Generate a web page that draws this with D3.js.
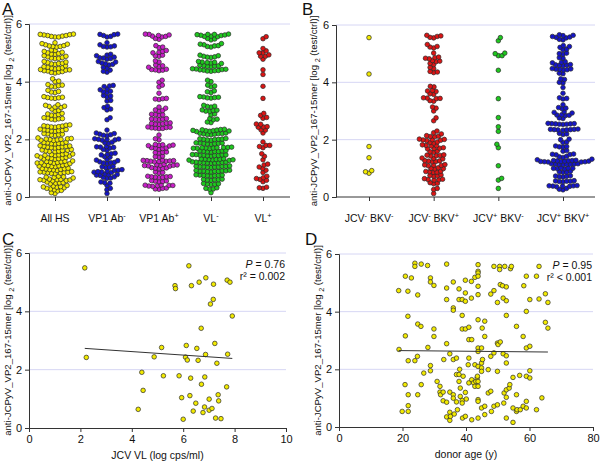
<!DOCTYPE html>
<html><head><meta charset="utf-8">
<script src="https://cdn.jsdelivr.net/npm/d3@7"></script>
<style>body{margin:0;background:#fff}svg{display:block}text{font-family:Arial,"Liberation Sans",sans-serif;fill:#111}</style>
</head><body><svg id="c" width="600" height="462"></svg>
<script>
// ---------------- DATA ----------------
const yTicks = [0, 2, 4, 6];
const catsA = ["All HS", "VP1 Ab-", "VP1 Ab+", "VL-", "VL+"];
const catsB = ["JCV- BKV-", "JCV- BKV+", "JCV+ BKV-", "JCV+ BKV+"];
const xTicksC = [0, 2, 4, 6, 8, 10];
const xTicksD = [0, 20, 40, 60, 80];

const allHS = [5.65,5.63,5.62,5.6,5.58,5.57,5.55,5.55,5.6,5.64,5.35,5.3,5.25,5.22,5.2,5.22,5.28,5.32,5.24,
5.1,5.05,5.0,4.98,4.96,5.02,5.08,4.95,4.9,4.86,4.82,4.8,4.84,4.88,4.81,4.7,4.66,4.62,4.6,4.64,4.68,4.63,
4.55,4.5,4.48,4.46,4.52,4.47,4.42,4.4,4.38,4.35,4.32,4.3,4.33,4.37,4.41,4.44,4.1,4.02,4.0,
3.9,3.86,3.84,3.82,3.88,3.7,3.66,3.62,3.64,3.48,3.45,3.44,3.42,3.46,3.43,3.2,3.15,3.12,3.1,3.14,3.18,
3.05,3.0,2.98,2.9,2.86,2.84,2.82,2.88,2.75,2.72,2.7,2.68,2.71,2.74,2.5,2.47,2.45,2.43,2.42,2.44,2.46,2.49,
2.35,2.33,2.31,2.3,2.28,2.29,2.32,2.34,2.2,2.18,2.15,2.13,2.16,2.19,2.05,2.02,2.0,1.99,1.98,1.97,2.01,2.03,1.96,
1.9,1.88,1.86,1.85,1.84,1.87,1.89,1.78,1.76,1.75,1.74,1.72,1.71,1.73,1.77,1.7,1.65,1.62,1.6,1.58,1.57,1.59,1.61,1.63,
1.5,1.48,1.46,1.45,1.44,1.43,1.47,1.49,1.42,1.38,1.36,1.34,1.32,1.31,1.33,1.35,1.37,
1.25,1.23,1.22,1.2,1.19,1.18,1.17,1.21,1.24,1.16,1.12,1.1,1.09,1.08,1.07,1.06,1.11,1.05,
1.0,0.98,0.96,0.95,0.94,0.92,0.97,0.99,0.88,0.87,0.86,0.85,0.84,0.83,0.82,0.86,0.81,
0.72,0.7,0.69,0.68,0.66,0.62,0.61,0.6,0.59,0.58,0.57,0.56,0.6,0.52,0.5,0.49,0.48,0.46,
0.4,0.38,0.36,0.35,0.34,0.32,0.3,0.28,0.25,0.23,0.21,0.15,0.12];

const vp1Neg = [5.65,5.63,5.6,5.55,5.57,5.64,5.35,5.28,5.22,5.2,5.24,5.21,4.95,4.92,4.9,4.85,4.8,4.82,4.78,4.83,
4.7,4.65,4.68,4.6,4.58,4.62,4.5,4.47,4.4,4.36,4.33,3.87,3.85,3.83,3.75,3.72,3.65,3.62,3.67,3.5,3.47,3.52,3.35,3.33,
3.15,3.1,3.05,3.02,2.75,2.68,2.32,2.2,2.22,2.18,2.12,2.14,2.16,2.02,2.0,1.98,1.97,2.01,1.99,1.9,1.88,1.86,
1.75,1.73,1.72,1.7,1.74,1.65,1.62,1.52,1.5,1.48,1.46,1.4,1.38,1.3,1.28,1.26,1.22,1.2,1.18,1.16,1.19,1.06,1.05,1.03,1.02,
0.95,0.93,0.92,0.9,0.88,0.87,0.86,0.85,0.8,0.78,0.76,0.75,0.77,0.7,0.68,0.66,0.65,0.52,0.5,0.48,0.4,0.3,0.25,0.12];

const vp1Pos = [5.65,5.62,5.6,5.57,5.55,5.58,5.64,5.5,5.47,5.25,5.2,5.18,5.08,5.05,5.02,5.0,4.92,4.9,4.88,4.72,4.68,
4.58,4.55,4.52,4.5,4.43,4.41,4.4,4.38,4.42,4.05,3.98,3.88,3.82,3.6,3.42,3.4,3.38,3.41,3.12,3.08,3.02,3.0,2.98,
2.87,2.85,2.83,2.86,2.72,2.7,2.68,2.71,2.69,2.56,2.55,2.53,2.54,2.57,2.52,2.42,2.4,2.38,2.41,2.39,2.37,2.43,2.15,
2.02,1.98,1.82,1.8,1.78,1.81,1.79,1.77,1.7,1.68,1.66,1.69,1.71,1.56,1.55,1.53,1.54,1.42,1.4,1.38,
1.27,1.26,1.25,1.24,1.23,1.22,1.26,1.24,1.28,1.12,1.1,1.09,1.08,1.11,1.1,1.07,1.13,1.02,1.0,0.98,0.99,1.01,
0.87,0.85,0.83,0.72,0.7,0.68,0.69,0.71,0.7,0.67,0.56,0.55,0.53,0.54,0.57,0.42,0.4,0.38,0.39,0.41,0.37,0.4,0.3,0.28,0.27,0.31];

const vlNeg = [5.65,5.64,5.63,5.62,5.6,5.58,5.57,5.56,5.61,5.64,5.5,5.48,5.45,5.32,5.28,5.25,5.22,5.2,5.24,5.3,
4.92,4.88,4.86,4.84,4.9,4.85,4.7,4.67,4.65,4.63,4.66,4.68,4.57,4.55,4.53,4.52,4.56,4.54,
4.45,4.43,4.41,4.4,4.38,4.37,4.39,4.42,4.44,4.36,4.05,4.0,3.88,3.85,3.82,3.68,3.65,3.62,
3.48,3.46,3.45,3.44,3.47,3.43,3.18,3.15,3.12,3.14,3.02,3.0,2.98,3.01,2.97,2.88,2.85,2.72,2.7,2.68,2.6,2.58,
2.34,2.33,2.31,2.3,2.29,2.28,2.32,2.3,2.27,2.35,2.22,2.2,2.18,2.17,2.19,2.21,2.16,2.2,
2.03,2.02,2.0,1.99,1.98,2.01,1.97,2.0,1.88,1.87,1.86,1.85,1.84,1.86,1.83,1.87,
1.73,1.72,1.71,1.7,1.69,1.68,1.72,1.7,1.71,1.69,1.6,1.59,1.58,1.57,1.6,1.58,1.61,1.56,
1.47,1.46,1.45,1.44,1.43,1.45,1.46,1.44,1.47,1.42,1.32,1.31,1.3,1.29,1.28,1.3,1.31,1.29,1.33,1.27,
1.21,1.2,1.19,1.18,1.2,1.22,1.17,1.19,1.21,1.18,1.07,1.06,1.05,1.04,1.03,1.05,1.06,1.04,1.08,1.02,
0.92,0.91,0.9,0.89,0.88,0.9,0.91,0.89,0.93,0.87,0.77,0.76,0.75,0.74,0.73,0.75,0.76,0.74,
0.62,0.61,0.6,0.59,0.58,0.6,0.47,0.46,0.45,0.44,0.43,0.32,0.3,0.28,0.27,0.15];

// Panel C: JCV viral load (log cps/ml) vs response — also the VL+ column in A
const jcvVL = [2.17,2.23,4.25,4.39,4.44,4.87,5.16,5.23,5.68,5.70,5.84,5.94,6.0,6.09,6.12,6.16,6.22,6.26,6.29,6.32,
6.39,6.49,6.53,6.58,6.62,6.70,6.71,6.77,6.83,6.84,6.87,6.88,7.01,7.01,7.12,7.06,7.17,7.18,7.23,7.26,
7.31,7.36,7.38,7.47,7.69,7.73,7.71,7.82,7.91];
const jcvValue = [5.49,2.42,0.64,1.91,1.29,2.44,2.76,1.79,4.88,4.78,1.79,1.04,0.30,2.43,2.83,2.33,5.56,1.11,1.71,4.88,
0.58,0.85,2.73,2.32,5.0,3.42,1.50,0.53,0.72,1.75,2.52,5.15,0.61,0.99,0.67,4.25,4.41,4.93,2.90,0.34,
2.22,1.14,0.93,0.32,1.41,2.53,5.07,5.00,3.84];
const fitC = [2.86, -0.060]; // intercept, slope

const jNbN = [5.56,4.29,1.76,1.37,0.92,0.83,0.88];
const jNbP = [5.64,5.6,5.57,5.55,5.62,5.32,5.25,5.23,5.2,5.02,4.88,4.86,4.84,4.82,4.76,4.74,4.72,4.66,4.62,4.52,4.48,
4.38,4.36,4.34,3.86,3.84,3.72,3.7,3.68,3.6,3.58,3.46,3.45,3.44,3.43,3.36,3.34,3.14,3.1,3.0,2.76,2.66,2.3,2.24,2.2,
2.14,2.12,2.1,2.11,2.02,2.0,1.99,1.98,2.01,1.97,1.92,1.9,1.88,1.82,1.8,1.78,1.79,1.72,1.7,1.68,1.69,1.6,1.58,1.56,
1.47,1.46,1.45,1.44,1.43,1.36,1.35,1.33,1.27,1.26,1.25,1.24,1.23,1.13,1.12,1.11,1.1,1.09,1.02,1.0,0.99,0.98,
0.9,0.89,0.88,0.87,0.86,0.77,0.75,0.74,0.73,0.64,0.62,0.61,0.6,0.59,0.5,0.48,0.46,0.3,0.26,0.12];
const jPbN = [5.56,5.45,5.0,4.93,4.93,5.02,4.42,3.43,2.77,2.45,2.29,1.84,1.72,1.09,0.65,0.59,0.30];
const jPbP = [5.66,5.64,5.6,5.57,5.55,5.58,5.63,5.5,5.48,5.28,5.25,5.22,5.16,5.14,5.02,5.0,4.98,4.86,4.84,4.72,4.7,4.68,
4.62,4.6,4.58,4.61,4.59,4.48,4.46,4.45,4.44,4.43,4.47,4.32,4.3,4.12,4.1,4.0,3.98,3.82,3.62,3.46,3.44,3.42,3.22,
3.12,3.1,3.08,2.97,2.95,2.93,2.87,2.86,2.85,2.84,2.76,2.74,2.57,2.56,2.55,2.54,2.53,2.55,2.56,2.54,
2.37,2.36,2.35,2.34,2.33,2.35,2.34,2.36,2.22,2.2,2.18,2.02,2.0,1.92,1.9,1.78,1.76,1.75,1.74,1.62,1.6,
1.5,1.49,1.48,1.47,1.42,1.4,1.38,1.32,1.3,1.27,1.26,1.26,1.25,1.25,1.24,1.24,1.23,1.23,1.22,1.27,1.28,1.22,
1.16,1.15,1.14,1.13,1.15,1.14,1.16,1.13,1.02,1.01,1.0,0.99,0.98,1.0,0.9,0.88,0.87,0.86,
0.74,0.72,0.71,0.7,0.73,0.57,0.56,0.55,0.54,0.53,0.55,0.4,0.39,0.38,0.37,0.36,0.38,0.39,0.3,0.27,0.25];

// Panel D: donor age vs response
const donorAge = [18.8,18.9,19.9,20.8,20.9,20.9,21.7,21.7,21.8,21.8,21.8,21.8,22.8,23.9,23.9,23.9,24.7,24.8,24.8,24.8,
25.8,25.9,25.9,26.7,27.9,28.0,28.8,28.8,28.8,28.8,29.9,29.9,29.9,30.9,31.8,31.8,32.0,32.8,32.8,33.0,
33.9,33.9,33.9,33.9,33.9,33.9,34.9,34.9,34.9,34.9,35.1,36.0,36.0,36.0,36.0,36.0,36.0,36.3,37.0,37.0,
37.0,37.3,37.8,37.8,37.8,37.8,38.0,38.2,38.2,38.8,38.8,38.8,38.8,38.8,38.9,39.1,39.8,39.8,39.8,39.8,
39.8,39.8,40.1,40.7,40.9,40.9,40.9,40.9,41.7,41.7,41.8,41.8,41.8,42.4,42.8,42.8,42.8,43.1,43.5,43.6,
43.8,43.8,43.8,43.8,43.8,43.8,43.8,43.8,43.8,43.8,43.8,43.8,43.8,43.8,43.8,44.9,44.9,44.9,44.9,44.9,
45.1,45.2,45.9,45.9,45.9,45.9,47.0,47.0,47.8,47.8,47.8,48.0,48.8,48.8,48.8,48.8,49.9,49.9,49.9,49.9,
50.1,50.6,50.6,50.8,50.8,51.5,51.7,51.7,51.9,52.0,52.2,52.7,52.7,52.7,52.7,52.7,52.7,52.7,52.7,53.6,
53.8,54.0,54.3,54.8,54.8,54.8,55.9,55.9,55.9,56.1,56.9,57.1,58.0,58.0,58.2,59.0,59.0,59.0,59.0,59.0,
59.0,60.1,60.1,60.1,60.1,62.2,62.2,63.0,63.0,63.9,65.0,65.0,65.8,65.8];
const donorValue = [4.73,2.69,0.54,1.47,3.16,5.23,4.71,3.84,2.3,1.12,0.74,0.54,5.17,5.68,5.57,2.3,2.45,4.58,3.57,1.12,
3.49,5.65,1.47,1.87,5.6,2.76,5.17,5.03,2.13,1.95,4.91,3.4,3.14,1.58,1.41,1.21,1.12,1.21,0.91,2.34,
5.65,4.82,4.42,2.89,0.86,0.35,2.54,1.21,0.51,0.23,0.37,5.03,4.13,4.05,2.34,1.12,1.0,0.45,2.39,1.82,
0.87,0.6,4.79,4.42,1.82,1.58,2.0,1.35,1.06,4.42,3.87,3.4,0.92,0.83,0.31,1.76,5.09,4.65,4.36,3.4,
1.2,0.37,0.97,2.16,3.46,3.03,2.39,1.53,5.05,4.47,3.03,1.64,0.25,1.53,5.19,2.16,1.41,1.58,1.7,1.76,
5.63,5.4,5.34,5.23,4.88,4.59,3.72,2.74,2.62,2.1,1.58,1.41,0.95,0.89,0.31,2.74,2.22,2.05,1.93,0.66,
3.43,2.34,3.67,3.14,0.72,0.43,1.99,1.18,4.61,2.45,1.24,0.54,5.57,4.73,2.57,0.72,4.32,2.91,1.93,0.77,
2.86,5.57,5.46,4.94,2.95,4.9,4.47,2.54,0.83,1.18,5.57,4.86,4.38,3.87,2.47,2.22,1.29,1.03,0.31,1.35,
1.47,5.49,5.57,1.72,0.66,0.16,3.49,1.12,0.54,0.6,1.79,0.6,3.14,0.72,4.9,5.23,4.01,2.74,1.76,0.89,
0.66,4.42,2.8,1.95,1.7,0.6,5.23,5.57,4.44,1.01,4.62,3.63,4.32,3.43];
const fitD = [2.67, -0.00106]; // intercept, slope

const colorsA = ["#f2ea00", "#1515c8", "#c81ec8", "#1ec81e", "#dc1414"];
const colorsB = ["#f2ea00", "#dc1414", "#1ec81e", "#1515c8"];

// ---------------- DRAWING ----------------
const svg = d3.select("#c");
const gridColor = "#d6d6f4", axisColor = "#333";
const R = 2.3, DCOL = 3.75;

function richText(sel, str, size) {
  // trailing +/- on a token -> superscript
  const parts = str.split(/(\s+)/);
  let pend = 0;
  parts.forEach(p => {
    if (/^[^\s]+[+-]$/.test(p)) {
      const a = sel.append("tspan").text(p.slice(0, -1));
      if (pend) { a.attr("dy", pend); pend = 0; }
      sel.append("tspan").attr("font-size", size * 0.7).attr("dy", -size * 0.4).text(p.slice(-1));
      pend = size * 0.4;
    } else {
      const a = sel.append("tspan").attr("font-size", size).text(p);
      if (pend) { a.attr("dy", pend); pend = 0; }
    }
  });
}

function yLabel(x, yc, size) {
  const t = svg.append("text").attr("transform", `translate(${x},${yc}) rotate(-90)`)
    .attr("text-anchor", "middle").attr("font-size", size);
  t.append("tspan").text("anti-JCPyV_VP2_167-15mer [log ");
  t.append("tspan").attr("font-size", size * 0.75).attr("dy", size * 0.3).text("2");
  t.append("tspan").attr("dy", -size * 0.3).text(" (test/ctrl)]");
  return t;
}

function yAxis(g, y, x0, x1) {
  g.append("g").selectAll("line").data(yTicks.filter(d => d > 0)).join("line")
    .attr("x1", x0).attr("x2", x1).attr("y1", d => y(d)).attr("y2", d => y(d))
    .attr("stroke", gridColor).attr("stroke-width", 1);
  const ax = g.append("g").attr("transform", `translate(${x0},0)`)
    .call(d3.axisLeft(y).tickValues(yTicks).tickSize(4).tickPadding(3).tickFormat(d3.format("d")));
  ax.select(".domain").attr("stroke", axisColor);
  ax.selectAll(".tick line").attr("stroke", axisColor);
  ax.selectAll("text").attr("font-size", 11).attr("font-family", "Arial").attr("fill", "#111");
}

function swarm(values, y, cx) {
  const pts = values.map(v => ({ v, y: y(v) })).sort((a, b) => b.y - a.y);
  const placed = [];
  pts.forEach((p, i) => {
    const cand = [0];
    placed.forEach(q => {
      const dy = Math.abs(q.y - p.y);
      if (dy < DCOL) { const dx = Math.sqrt(DCOL * DCOL - dy * dy); cand.push(q.x + dx, q.x - dx); }
    });
    const sgn = i % 2 ? 1 : -1;
    cand.sort((a, b) => Math.abs(a) - Math.abs(b) || (a - b) * sgn);
    for (const x of cand) {
      let ok = true;
      for (const q of placed) {
        const dx = q.x - x, dy = q.y - p.y;
        if (dx * dx + dy * dy < DCOL * DCOL - 0.01) { ok = false; break; }
      }
      if (ok) { p.x = x; break; }
    }
    placed.push(p);
  });
  return placed.map(p => ({ v: p.v, x: cx + p.x, y: p.y }));
}

function catPanel(cats, groups, colors, x0, x1, xFirst, xLast, yTop, yBot, labelY, ylabX) {
  const g = svg.append("g");
  const y = d3.scaleLinear().domain([0, 6]).range([yBot, yTop]);
  const x = d3.scalePoint().domain(cats).range([xFirst, xLast]);
  yAxis(g, y, x0, x1);
  const xa = g.append("g").attr("transform", `translate(0,${yBot})`)
    .call(d3.axisBottom(x).tickSize(4).tickFormat(""));
  xa.select(".domain").attr("d", `M${x0},0H${x1}`).attr("stroke", axisColor);
  xa.selectAll(".tick line").attr("stroke", axisColor);
  cats.forEach((c, i) => {
    const pts = swarm(groups[i], y, x(c));
    g.append("g").selectAll("circle").data(pts).join("circle")
      .attr("cx", d => d.x).attr("cy", d => d.y).attr("r", R)
      .attr("fill", colors[i]).attr("stroke", "#2a2a2a").attr("stroke-width", 0.7);
    const t = g.append("text").attr("x", x(c)).attr("y", labelY).attr("text-anchor", "middle").attr("font-size", 10.5);
    richText(t, c, 10.5);
  });
  yLabel(ylabX, (yTop + yBot) / 2, 9.6);
}

function scatterPanel(xs, ys, fit, xTicks, xDom, x0, x1, yTop, yBot, xTitle, pText, rText, ylabX) {
  const g = svg.append("g");
  const y = d3.scaleLinear().domain([0, 6]).range([yBot, yTop]);
  const x = d3.scaleLinear().domain(xDom).range([x0, x1]);
  yAxis(g, y, x0, x1);
  const xa = g.append("g").attr("transform", `translate(0,${yBot})`)
    .call(d3.axisBottom(x).tickValues(xTicks).tickSize(4).tickPadding(3).tickFormat(d3.format("d")));
  xa.select(".domain").attr("stroke", axisColor);
  xa.selectAll(".tick line").attr("stroke", axisColor);
  xa.selectAll("text").attr("font-size", 11).attr("font-family", "Arial").attr("fill", "#111");
  const pts = xs.map((v, i) => ({ a: v, b: ys[i] }));
  g.append("g").selectAll("circle").data(pts).join("circle")
    .attr("cx", d => x(d.a)).attr("cy", d => y(d.b)).attr("r", 2.3)
    .attr("fill", "#f2ea00").attr("stroke", "#2a2a2a").attr("stroke-width", 0.7);
  const ext = d3.extent(xs);
  g.append("line").attr("x1", x(ext[0])).attr("x2", x(ext[1]))
    .attr("y1", y(fit[0] + fit[1] * ext[0])).attr("y2", y(fit[0] + fit[1] * ext[1]))
    .attr("stroke", "#333").attr("stroke-width", 1);
  g.append("text").attr("x", (x0 + x1) / 2).attr("y", yBot + 31).attr("text-anchor", "middle")
    .attr("font-size", 10.5).text(xTitle);
  const p = g.append("text").attr("x", x1 - 1).attr("y", yTop + 15).attr("text-anchor", "end").attr("font-size", 10.5);
  p.append("tspan").attr("font-style", "italic").text("P");
  p.append("tspan").text(pText);
  g.append("text").attr("x", x1 - 1).attr("y", yTop + 27).attr("text-anchor", "end").attr("font-size", 10.5).text(rText);
  yLabel(ylabX, (yTop + yBot) / 2, 9.6);
}

function panelLetter(t, x, y) {
  svg.append("text").attr("x", x).attr("y", y).attr("font-family", "'Liberation Serif','DejaVu Serif',serif")
    .attr("font-size", 17).text(t);
}

catPanel(catsA, [allHS, vp1Neg, vp1Pos, vlNeg, jcvValue], colorsA, 29, 290, 55, 263, 24, 197, 222, 11);
catPanel(catsB, [jNbN, jNbP, jPbN, jPbP], colorsB, 336, 595, 369, 563, 25, 197, 222, 317);
scatterPanel(jcvVL, jcvValue, fitC, xTicksC, [0, 10], 29, 286, 253, 428, "JCV VL (log cps/ml)", " = 0.76", "r\u00B2 = 0.002", 11);
scatterPanel(donorAge, donorValue, fitD, xTicksD, [0, 80], 339, 593, 254, 427, "donor age (y)", " = 0.95", "r\u00B2 < 0.001", 321);

panelLetter("A", 2, 15);
panelLetter("B", 302, 15);
panelLetter("C", 2, 245);
panelLetter("D", 305, 245);
</script></body></html>
